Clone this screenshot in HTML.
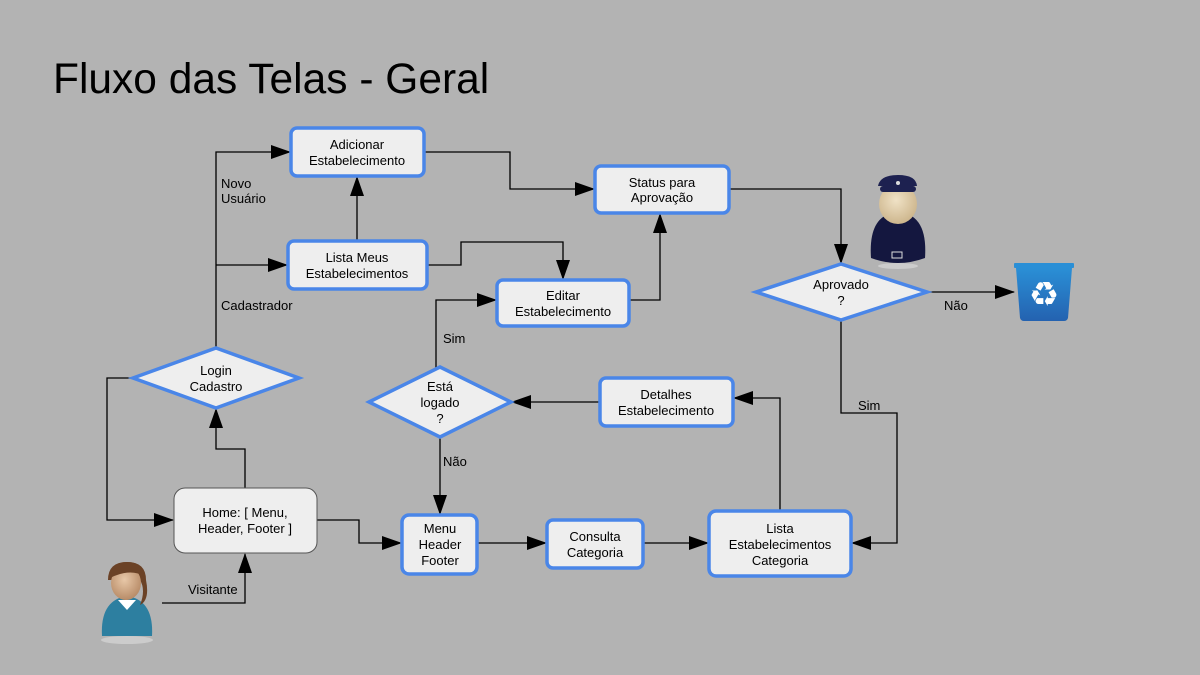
<!DOCTYPE html>
<html><head><meta charset="utf-8"><style>
html,body{margin:0;padding:0;background:#b3b3b3;}
svg{display:block;font-family:"Liberation Sans",sans-serif;}
</style></head><body>
<svg width="1200" height="675" viewBox="0 0 1200 675" xmlns="http://www.w3.org/2000/svg">
<defs>
<marker id="a" markerWidth="20" markerHeight="14" refX="19" refY="7" orient="auto" markerUnits="userSpaceOnUse" viewBox="0 0 20 14">
<path d="M0,0 L20,7 L0,14 z" fill="#000"/></marker>
<linearGradient id="bin" x1="0" y1="0" x2="0" y2="1"><stop offset="0" stop-color="#2a8fd6"/><stop offset="1" stop-color="#2462b0"/></linearGradient>
<radialGradient id="face" cx="0.45" cy="0.4" r="0.6"><stop offset="0" stop-color="#f0e2c6"/><stop offset="1" stop-color="#cdb68d"/></radialGradient>
<radialGradient id="face2" cx="0.45" cy="0.4" r="0.6"><stop offset="0" stop-color="#e8c8a8"/><stop offset="1" stop-color="#b88c68"/></radialGradient>
</defs>
<rect width="1200" height="675" fill="#b3b3b3"/>
<text x="53" y="93" font-size="42.5" fill="#000">Fluxo das Telas - Geral</text>

<g fill="none" stroke="#000" stroke-width="1.3">
<polyline points="245,488 245,449 216,449 216,409" marker-end="url(#a)"/>
<polyline points="133,378 107,378 107,520 173,520" marker-end="url(#a)"/>
<polyline points="216,348 216,152 290,152" marker-end="url(#a)"/>
<polyline points="216,265 287,265" marker-end="url(#a)"/>
<polyline points="357,241 357,177" marker-end="url(#a)"/>
<polyline points="427,265 461,265 461,242 563,242 563,279" marker-end="url(#a)"/>
<polyline points="424,152 510,152 510,189 594,189" marker-end="url(#a)"/>
<polyline points="729,189 841,189 841,263" marker-end="url(#a)"/>
<polyline points="927,292 1014,292" marker-end="url(#a)"/>
<polyline points="841,320 841,413 897,413 897,543 852,543" marker-end="url(#a)"/>
<polyline points="780,511 780,398 734,398" marker-end="url(#a)"/>
<polyline points="600,402 512,402" marker-end="url(#a)"/>
<polyline points="436,369 436,300 496,300" marker-end="url(#a)"/>
<polyline points="440,437 440,514" marker-end="url(#a)"/>
<polyline points="317,520 359,520 359,543 401,543" marker-end="url(#a)"/>
<polyline points="477,543 546,543" marker-end="url(#a)"/>
<polyline points="643,543 708,543" marker-end="url(#a)"/>
<polyline points="629,300 660,300 660,214" marker-end="url(#a)"/>
<polyline points="162,603 245,603 245,554" marker-end="url(#a)"/>
</g>

<g fill="#eeeeee" stroke="#4a86e8" stroke-width="3.5">
<rect x="291" y="128" width="133" height="48" rx="6"/>
<rect x="595" y="166" width="134" height="47" rx="6"/>
<rect x="288" y="241" width="139" height="48" rx="6"/>
<rect x="497" y="280" width="132" height="46" rx="6"/>
<rect x="600" y="378" width="133" height="48" rx="6"/>
<rect x="402" y="515" width="75" height="59" rx="7"/>
<rect x="547" y="520" width="96" height="48" rx="6"/>
<rect x="709" y="511" width="142" height="65" rx="7"/>
<polygon points="133,378 216,348 299,378 216,408"/>
<polygon points="369,402 440,367 511,402 440,437"/>
<polygon points="756,292 841,264 927,292 841,320"/>
</g>
<rect x="174" y="488" width="143" height="65" rx="11" fill="#eeeeee" stroke="#555" stroke-width="1"/>

<g font-size="13" fill="#000" text-anchor="middle">
<text x="357" y="149">Adicionar</text><text x="357" y="165">Estabelecimento</text>
<text x="662" y="187">Status para</text><text x="662" y="202">Aprovação</text>
<text x="357" y="262">Lista Meus</text><text x="357" y="278">Estabelecimentos</text>
<text x="563" y="300">Editar</text><text x="563" y="316">Estabelecimento</text>
<text x="666" y="399">Detalhes</text><text x="666" y="415">Estabelecimento</text>
<text x="440" y="533">Menu</text><text x="440" y="549">Header</text><text x="440" y="565">Footer</text>
<text x="595" y="541">Consulta</text><text x="595" y="557">Categoria</text>
<text x="780" y="533">Lista</text><text x="780" y="549">Estabelecimentos</text><text x="780" y="565">Categoria</text>
<text x="245" y="517">Home: [ Menu,</text><text x="245" y="533">Header,  Footer ]</text>
<text x="216" y="375">Login</text><text x="216" y="391">Cadastro</text>
<text x="440" y="391">Está</text><text x="440" y="407">logado</text><text x="440" y="423">?</text>
<text x="841" y="289">Aprovado</text><text x="841" y="305">?</text>
</g>
<g font-size="13" fill="#000">
<text x="221" y="188">Novo</text><text x="221" y="203">Usuário</text>
<text x="221" y="310">Cadastrador</text>
<text x="944" y="310">Não</text>
<text x="858" y="410">Sim</text>
<text x="443" y="343">Sim</text>
<text x="443" y="466">Não</text>
<text x="188" y="594">Visitante</text>
</g>

<g>
<ellipse cx="127" cy="640" rx="26" ry="4" fill="#ccc"/>
<path d="M102,636 Q100,600 127,596 Q154,600 152,636 Z" fill="#2d7fa0"/>
<path d="M118,600 L127,610 L136,600 Z" fill="#fff"/>
<path d="M108,580 Q108,562 127,562 Q146,562 146,580 Q150,600 140,605 Q146,590 140,580 Z" fill="#6b4226"/>
<ellipse cx="126" cy="583" rx="15" ry="17" fill="url(#face2)"/>
<path d="M110,578 Q112,562 127,562 Q142,562 144,576 Q130,568 110,578 Z" fill="#6b4226"/>
</g>

<g>
<ellipse cx="898" cy="266" rx="20" ry="3" fill="#ccc"/>
<path d="M871,258 Q868,214 898,212 Q928,214 925,258 Q898,268 871,258 Z" fill="#14173f"/>
<rect x="892" y="252" width="10" height="6" fill="#14173f" stroke="#ddd" stroke-width="1"/>
<ellipse cx="898" cy="204" rx="19" ry="20" fill="url(#face)"/>
<path d="M878,186 Q880,175 898,175 Q916,175 917,186 Z" fill="#1d2150"/>
<rect x="880" y="186" width="36" height="6" rx="3" fill="#1d2150"/>
<circle cx="898" cy="183" r="2" fill="#ddd"/>
</g>

<g>
<rect x="1014" y="263" width="60" height="5" rx="1" fill="#2a8fd6"/>
<path d="M1016,268 L1072,268 L1068,318 Q1067,321 1064,321 L1024,321 Q1021,321 1020,318 Z" fill="url(#bin)"/>
<text x="1044" y="306" font-size="34" fill="#fff" text-anchor="middle" font-family="DejaVu Sans,sans-serif">♻</text>
</g>
</svg>
</body></html>
